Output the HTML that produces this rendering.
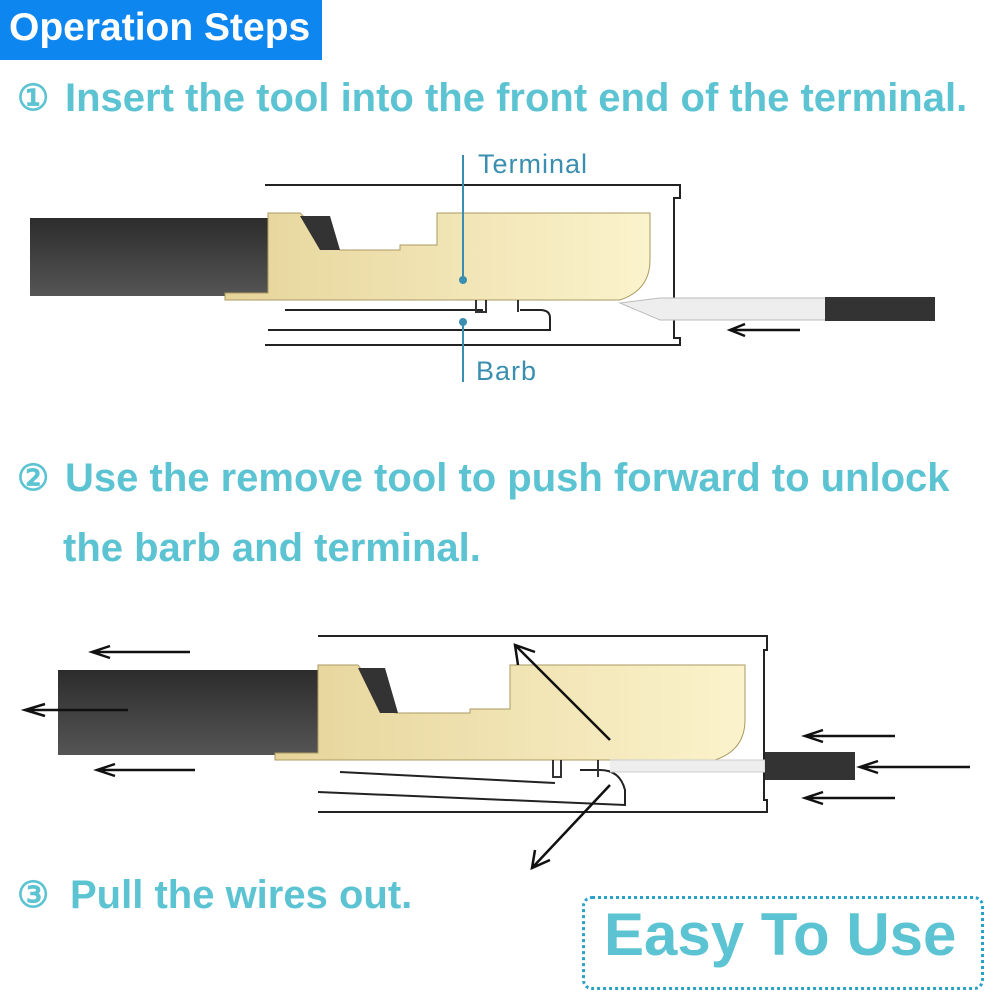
<!DOCTYPE html>
<html><head><meta charset="utf-8"><style>
body{margin:0;width:1000px;height:1000px;background:#fff;position:relative;overflow:hidden;font-family:"Liberation Sans",sans-serif}
.t{position:absolute;color:#5cc3d2;font-weight:bold;white-space:nowrap;font-size:40px;line-height:46px}
.n{position:absolute;color:#5cc3d2;font-weight:bold;font-size:36px;line-height:46px}
</style></head><body>
<div style="position:absolute;left:0;top:0;width:322px;height:60px;background:#0d86f0"></div>
<div class="t" style="left:9px;top:5px;color:#fff;font-size:39px">Operation Steps</div>
<div class="n" style="left:17px;top:75px">①</div>
<div class="t" style="left:65px;top:75px">Insert the tool into the front end of the terminal.</div>
<div class="n" style="left:17px;top:455px">②</div>
<div class="t" style="left:65px;top:455px">Use the remove tool to push forward to unlock</div>
<div class="t" style="left:63px;top:525px">the barb and terminal.</div>
<div class="n" style="left:17px;top:872px">③</div>
<div class="t" style="left:70px;top:872px">Pull the wires out.</div>
<div style="position:absolute;left:582px;top:896px;width:396px;height:88px;border:3px dotted #2aa2c8;border-radius:10px"></div>
<div class="t" style="left:604px;top:902px;font-size:60px;line-height:66px">Easy To Use</div>
<svg width="1000" height="1000" style="position:absolute;left:0;top:0">
<defs><linearGradient id="g" x1="0" x2="1"><stop offset="0" stop-color="#e6d49a"/><stop offset="1" stop-color="#fbf3cc"/></linearGradient>
<linearGradient id="d" x1="0" y1="0" x2="0" y2="1"><stop offset="0" stop-color="#2c2c2c"/><stop offset="1" stop-color="#555"/></linearGradient></defs>
<g stroke="#222" stroke-width="2" fill="none">
<path d="M265 185H680V198H674V338H680V345H265"/>
<path d="M285 310H483M268 330H550V318Q550 310 540 310H520"/>
</g>
<rect x="30" y="218" width="240" height="78" fill="url(#d)"/>
<path d="M268 213H300L340 250H400V245H437V213H650V260Q650 290 620 300H225V293H268Z" fill="url(#g)" stroke="#aa9a60" stroke-width="1"/>
<path d="M300 216L330 216L340 250L320 250Z" fill="#333"/>
<path d="M476 300V312H486V300M518 300V312" stroke="#333" stroke-width="2" fill="none"/>
<path d="M620 303L660 298H830V320H660Z" fill="#eee" stroke="#bbb"/>
<rect x="825" y="297" width="110" height="24" fill="#333"/>
<path d="M800 330H730M745 324L730 330L745 336" stroke="#111" stroke-width="2.5" fill="none"/>
<g stroke="#3a8fb0" stroke-width="2"><line x1="463" y1="155" x2="463" y2="280"/><line x1="463" y1="322" x2="463" y2="382"/></g>
<circle cx="463" cy="280" r="4" fill="#3a8fb0"/><circle cx="463" cy="322" r="4" fill="#3a8fb0"/>
<text x="478" y="173" font-size="27" fill="#3a8fb0" font-family="Liberation Sans" letter-spacing="1">Terminal</text>
<text x="476" y="380" font-size="27" fill="#3a8fb0" font-family="Liberation Sans" letter-spacing="1">Barb</text>
<g stroke="#222" stroke-width="2" fill="none">
<path d="M318 636H767V650H764V800H767V812H318"/>
<path d="M340 772L555 783M318 792L625 805V790Q620 770 600 770H580"/>
</g>
<rect x="58" y="670" width="262" height="85" fill="url(#d)"/>
<path d="M318 665H358L395 713H470V709H510V665H745V720Q745 750 715 760H275V753H318Z" fill="url(#g)" stroke="#aa9a60" stroke-width="1"/>
<path d="M358 668L385 668L398 713L380 713Z" fill="#333"/>
<path d="M553 760V777H561V760M598 760V777" stroke="#333" stroke-width="2" fill="none"/>
<path d="M610 760H765V772H610" fill="#eee" stroke="#ccc"/>
<rect x="765" y="752" width="90" height="28" fill="#333"/>
<g stroke="#111" stroke-width="2.5" fill="none">
<path d="M190 652H92M110 646L92 652L110 658"/>
<path d="M128 710H25M45 704L25 710L45 716"/>
<path d="M195 770H97M115 764L97 770L115 776"/>
<path d="M895 736H805M823 730L805 736L823 742"/>
<path d="M970 767H860M878 761L860 767L878 773"/>
<path d="M895 798H805M823 792L805 798L823 804"/>
<path d="M610 740L515 645M518 665L515 645L535 652"/>
<path d="M610 785L532 868M535 850L532 868L550 860"/>
</g>
</svg>
</body></html>
